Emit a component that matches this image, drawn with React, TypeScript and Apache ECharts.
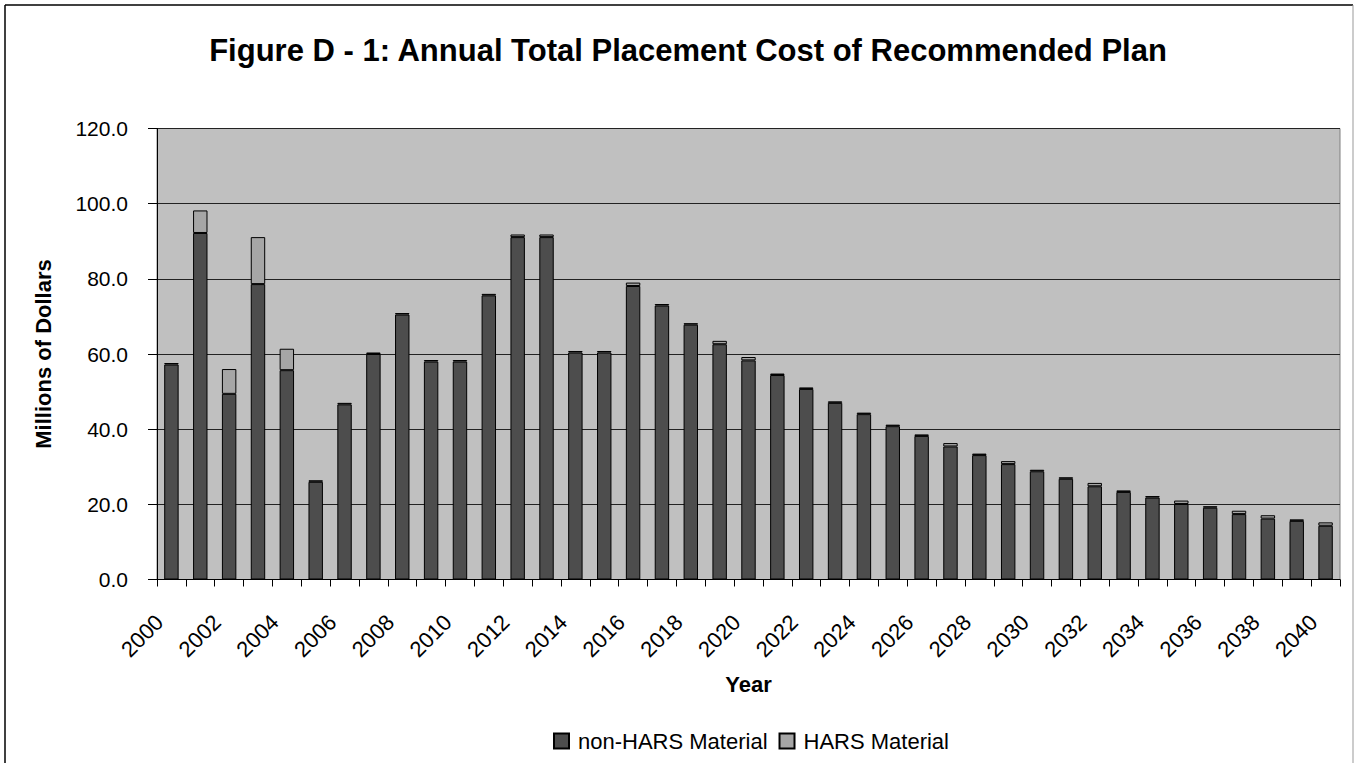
import React, { useEffect, useRef } from "react";
import * as echarts from "echarts";

const years: string[] = [
  "2000","2001","2002","2003","2004","2005","2006","2007","2008","2009",
  "2010","2011","2012","2013","2014","2015","2016","2017","2018","2019",
  "2020","2021","2022","2023","2024","2025","2026","2027","2028","2029",
  "2030","2031","2032","2033","2034","2035","2036","2037","2038","2039","2040",
];

const nonHarsMaterial: number[] = [
  57.2, 92.2, 49.4, 78.6, 55.7, 26.0, 46.6, 60.0, 70.5, 58.0,
  58.0, 75.6, 91.1, 91.1, 60.4, 60.4, 78.1, 72.9, 67.8, 62.6,
  58.3, 54.4, 50.7, 47.0, 44.0, 40.8, 38.2, 35.4, 33.1, 30.7,
  28.8, 26.8, 24.8, 23.3, 21.8, 20.1, 19.1, 17.4, 16.2, 15.6, 14.3,
];

const harsMaterial: number[] = [
  0.4, 6.0, 6.6, 12.5, 5.7, 0.4, 0.4, 0.4, 0.4, 0.4,
  0.4, 0.4, 0.7, 0.7, 0.4, 0.4, 0.9, 0.4, 0.4, 0.9,
  0.9, 0.4, 0.4, 0.4, 0.4, 0.4, 0.4, 0.9, 0.4, 0.8,
  0.4, 0.4, 0.9, 0.4, 0.4, 0.9, 0.4, 0.9, 0.9, 0.4, 0.9,
];

const titleText = "Figure D - 1: Annual Total Placement Cost of Recommended Plan";
const FONT = 'Arial, "Liberation Sans", sans-serif';

export default function App() {
  const ref = useRef<HTMLDivElement>(null);

  useEffect(() => {
    if (!ref.current) return;
    const chart = echarts.init(ref.current, null, { renderer: "svg" });
    chart.setOption({
      animation: false,
      backgroundColor: "#ffffff",
      textStyle: { fontFamily: FONT },
      title: {
        text: titleText,
        left: 683,
        textAlign: "center",
        top: 30,
        textStyle: { fontFamily: FONT, fontSize: 31, fontWeight: "bold", color: "#000" },
      },
      legend: {
        left: 548,
        top: 725,
        itemWidth: 15,
        itemHeight: 15,
        itemGap: 11,
        icon: "rect",
        textStyle: { fontFamily: FONT, fontSize: 22, color: "#000", padding: [0, 0, 0, 4] },
        data: ["non-HARS Material", "HARS Material"],
      },
      grid: {
        left: 157,
        right: 14,
        top: 128.5,
        bottom: 183.5,
        show: true,
        backgroundColor: "#c0c0c0",
        borderColor: "#808080",
        borderWidth: 1,
      },
      xAxis: {
        type: "category",
        data: years,
        name: "Year",
        nameLocation: "middle",
        nameGap: 94,
        nameTextStyle: { fontFamily: FONT, fontSize: 22, fontWeight: "bold", color: "#000" },
        axisLine: { lineStyle: { color: "#000", width: 1 } },
        axisTick: { show: true, interval: 0, length: 7, lineStyle: { color: "#000" } },
        axisLabel: {
          interval: 1,
          rotate: 45,
          margin: 27,
          padding: [0, 17, 0, 0],
          fontFamily: FONT,
          fontSize: 22,
          color: "#000",
        },
      },
      yAxis: {
        type: "value",
        min: 0,
        max: 120,
        interval: 20,
        name: "Millions of Dollars",
        nameLocation: "middle",
        nameGap: 103,
        nameRotate: 90,
        nameTextStyle: { fontFamily: FONT, fontSize: 22, fontWeight: "bold", color: "#000" },
        axisLine: { show: true, lineStyle: { color: "#000", width: 1 } },
        axisTick: { show: true, length: 9, lineStyle: { color: "#000" } },
        axisLabel: {
          margin: 29,
          fontFamily: FONT,
          fontSize: 21,
          color: "#000",
          formatter: (v: number) => v.toFixed(1),
        },
        splitLine: { show: true, lineStyle: { color: "#222", width: 1 } },
      },
      series: [
        {
          name: "non-HARS Material",
          type: "bar",
          stack: "total",
          data: nonHarsMaterial,
          barWidth: "50%",
          itemStyle: { color: "#4d4d4d", borderColor: "#000", borderWidth: 1 },
        },
        {
          name: "HARS Material",
          type: "bar",
          stack: "total",
          data: harsMaterial,
          barWidth: "50%",
          itemStyle: { color: "#a6a6a6", borderColor: "#000", borderWidth: 1 },
        },
      ],
      graphic: [
        { type: "line", shape: { x1: 5, y1: 5, x2: 1353, y2: 5 }, style: { stroke: "#000", lineWidth: 1.5 } },
        { type: "line", shape: { x1: 5, y1: 5, x2: 5, y2: 763 }, style: { stroke: "#000", lineWidth: 1.5 } },
        { type: "line", shape: { x1: 1353, y1: 5, x2: 1353, y2: 763 }, style: { stroke: "#999", lineWidth: 1 } },
      ],
    });
    return () => chart.dispose();
  }, []);

  return (
    <div
      ref={ref}
      style={{ position: "fixed", left: 0, top: 0, width: 1354, height: 763 }}
    />
  );
}
